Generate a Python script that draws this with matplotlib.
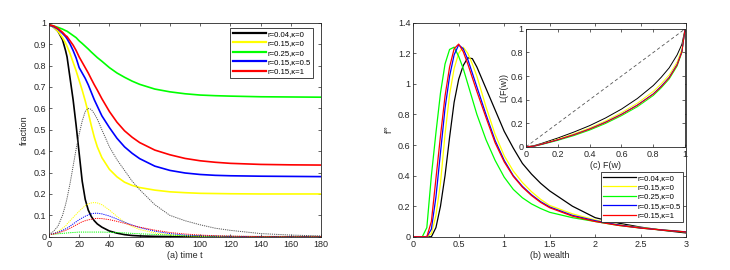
import matplotlib
matplotlib.use("Agg")
import matplotlib.pyplot as plt

plt.rcParams['font.family'] = ['Liberation Sans', 'DejaVu Sans']
plt.rcParams['mathtext.fontset'] = 'custom'
plt.rcParams['mathtext.rm'] = 'Liberation Sans'
plt.rcParams['mathtext.it'] = 'Liberation Sans'

# ---------------- data ----------------
labels = ['r=0.04,\u03ba=0', 'r=0.15,\u03ba=0', 'r=0.25,\u03ba=0', 'r=0.15,\u03ba=0.5', 'r=0.15,\u03ba=1']
colors = ['#000000', '#ffff00', '#00ff00', '#0000ff', '#ff0000']

# (a) fraction vs time
t = [0, 3, 6, 9, 11, 12, 14, 16, 18, 20, 22, 24, 26, 28, 30, 32, 35, 40, 45, 50, 55, 60, 70, 80, 90, 100, 110, 120, 140, 160, 180]
sol_k = [0.99, 0.98, 0.96, 0.92, 0.87, 0.84, 0.74, 0.64, 0.52, 0.39, 0.26, 0.175, 0.125, 0.095, 0.075, 0.06, 0.045, 0.027, 0.017, 0.01, 0.006, 0.004, 0.002, 0.001, 0, 0, 0, 0, 0, 0, 0]
sol_y = [0.99, 0.98, 0.96, 0.93, 0.905, 0.89, 0.855, 0.815, 0.775, 0.73, 0.685, 0.635, 0.58, 0.52, 0.465, 0.42, 0.37, 0.315, 0.28, 0.255, 0.24, 0.23, 0.218, 0.21, 0.206, 0.203, 0.202, 0.201, 0.2, 0.2, 0.2]
sol_g = [0.99, 0.985, 0.978, 0.97, 0.963, 0.96, 0.95, 0.94, 0.93, 0.915, 0.903, 0.89, 0.877, 0.863, 0.85, 0.837, 0.82, 0.79, 0.765, 0.745, 0.727, 0.712, 0.69, 0.677, 0.668, 0.662, 0.659, 0.657, 0.654, 0.653, 0.652]
sol_b = [0.99, 0.982, 0.97, 0.95, 0.935, 0.925, 0.9, 0.87, 0.835, 0.79, 0.765, 0.74, 0.71, 0.675, 0.64, 0.61, 0.565, 0.51, 0.46, 0.42, 0.39, 0.365, 0.33, 0.31, 0.298, 0.291, 0.287, 0.285, 0.283, 0.282, 0.281]
sol_r = [0.99, 0.985, 0.973, 0.955, 0.94, 0.935, 0.915, 0.895, 0.87, 0.84, 0.815, 0.79, 0.765, 0.737, 0.71, 0.685, 0.645, 0.585, 0.535, 0.495, 0.465, 0.44, 0.405, 0.383, 0.366, 0.355, 0.348, 0.343, 0.338, 0.336, 0.335]

dot_k = [0.01, 0.025, 0.05, 0.1, 0.15, 0.18, 0.25, 0.33, 0.41, 0.48, 0.54, 0.585, 0.6, 0.595, 0.575, 0.55, 0.5, 0.42, 0.36, 0.31, 0.26, 0.22, 0.15, 0.1, 0.075, 0.056, 0.04, 0.03, 0.015, 0.008, 0.004]
dot_y = [0.01, 0.015, 0.025, 0.04, 0.05, 0.06, 0.075, 0.09, 0.105, 0.12, 0.133, 0.145, 0.153, 0.158, 0.16, 0.158, 0.15, 0.125, 0.095, 0.068, 0.048, 0.034, 0.018, 0.009, 0.004, 0.002, 0.001, 0.001, 0, 0, 0]
dot_g = [0.01, 0.012, 0.014, 0.016, 0.017, 0.018, 0.019, 0.02, 0.021, 0.022, 0.022, 0.022, 0.022, 0.022, 0.022, 0.022, 0.022, 0.021, 0.02, 0.018, 0.016, 0.014, 0.011, 0.008, 0.006, 0.004, 0.003, 0.002, 0.001, 0, 0]
dot_b = [0.01, 0.015, 0.022, 0.03, 0.037, 0.04, 0.05, 0.06, 0.07, 0.08, 0.088, 0.096, 0.102, 0.107, 0.11, 0.11, 0.107, 0.097, 0.083, 0.068, 0.055, 0.043, 0.026, 0.015, 0.008, 0.005, 0.003, 0.002, 0, 0, 0]
dot_r = [0.01, 0.013, 0.018, 0.025, 0.03, 0.033, 0.04, 0.048, 0.055, 0.063, 0.07, 0.075, 0.079, 0.082, 0.085, 0.086, 0.085, 0.08, 0.072, 0.063, 0.053, 0.045, 0.031, 0.02, 0.013, 0.008, 0.005, 0.003, 0.001, 0, 0]

# (b) steady-state distribution vs wealth
w = [0, 0.1, 0.15, 0.2, 0.25, 0.3, 0.35, 0.4, 0.45, 0.5, 0.55, 0.6, 0.65, 0.7, 0.8, 0.9, 1.0, 1.1, 1.2, 1.3, 1.4, 1.5, 1.75, 2.0, 2.25, 2.5, 2.75, 3.0]
f_k = [0, 0, 0, 0, 0.06, 0.2, 0.4, 0.65, 0.88, 1.03, 1.12, 1.17, 1.165, 1.11, 0.97, 0.83, 0.69, 0.58, 0.48, 0.41, 0.35, 0.3, 0.2, 0.125, 0.09, 0.063, 0.042, 0.025]
f_y = [0, 0, 0, 0.02, 0.14, 0.35, 0.67, 0.93, 1.1, 1.2, 1.24, 1.2, 1.13, 1.05, 0.85, 0.67, 0.53, 0.43, 0.355, 0.295, 0.245, 0.205, 0.15, 0.11, 0.08, 0.06, 0.045, 0.032]
f_g = [0, 0, 0.06, 0.4, 0.68, 0.94, 1.13, 1.225, 1.24, 1.18, 1.1, 1.0, 0.9, 0.8, 0.635, 0.5, 0.39, 0.31, 0.255, 0.215, 0.185, 0.16, 0.125, 0.1, 0.075, 0.057, 0.043, 0.031]
f_b = [0, 0, 0, 0.05, 0.26, 0.55, 0.84, 1.05, 1.19, 1.255, 1.23, 1.16, 1.07, 0.98, 0.8, 0.63, 0.5, 0.4, 0.33, 0.275, 0.23, 0.195, 0.14, 0.105, 0.078, 0.058, 0.044, 0.032]
f_r = [0, 0, 0, 0.1, 0.38, 0.66, 0.92, 1.11, 1.23, 1.26, 1.21, 1.13, 1.04, 0.95, 0.78, 0.615, 0.49, 0.395, 0.325, 0.27, 0.225, 0.19, 0.135, 0.1, 0.075, 0.057, 0.043, 0.031]

# (c) Lorenz curves
F = [0, 0.05, 0.1, 0.2, 0.3, 0.4, 0.5, 0.6, 0.7, 0.8, 0.85, 0.9, 0.95, 0.98, 1.0]
L_k = [0, 0.01, 0.03, 0.075, 0.125, 0.18, 0.245, 0.32, 0.41, 0.52, 0.59, 0.67, 0.78, 0.87, 1.0]
L_y = [0, 0.007, 0.025, 0.065, 0.11, 0.16, 0.22, 0.29, 0.37, 0.47, 0.535, 0.61, 0.72, 0.83, 1.0]
L_g = [0, 0.005, 0.02, 0.055, 0.095, 0.142, 0.198, 0.264, 0.34, 0.435, 0.5, 0.575, 0.685, 0.8, 1.0]
L_b = [0, 0.006, 0.023, 0.06, 0.103, 0.152, 0.21, 0.277, 0.355, 0.45, 0.515, 0.59, 0.7, 0.81, 1.0]
L_r = [0, 0.006, 0.023, 0.06, 0.102, 0.15, 0.207, 0.274, 0.352, 0.447, 0.51, 0.585, 0.695, 0.805, 1.0]

# ---------------- figure ----------------
fig = plt.figure(figsize=(7.3, 2.7), dpi=100)
axc = '#262626'
fs = 6.5

def style(ax):
    ax.tick_params(direction='in', length=2.5, width=0.5, labelsize=fs, colors=axc,
                   top=True, right=True, pad=2)
    for s in ax.spines.values():
        s.set_linewidth(0.6)
        s.set_color(axc)

ax1 = fig.add_axes([0.067, 0.123, 0.373, 0.793])
sols = [sol_k, sol_y, sol_g, sol_b, sol_r]
dots = [dot_k, dot_y, dot_g, dot_b, dot_r]
for s, c, lab in zip(sols, colors, labels):
    ax1.plot(t, s, color=c, lw=1.2, label=lab)
for d, c in zip(dots, colors):
    ax1.plot(t, d, color=(c if c != '#000000' else '#555555'), lw=0.7, ls=(0, (1.2, 1.0)))
ax1.set_xlim(0, 180)
ax1.set_ylim(0, 1)
ax1.set_xticks(range(0, 181, 20))
ax1.set_yticks([i / 10 for i in range(11)])
ax1.set_yticklabels(['0'] + ['%.1f' % (i / 10) for i in range(1, 10)] + ['1'])
ax1.set_xlabel('(a) time t', fontsize=fs, color=axc, labelpad=2)
ax1.set_ylabel('fraction', fontsize=fs, color=axc, labelpad=3)
style(ax1)
leg1 = ax1.legend(loc='upper right', bbox_to_anchor=(0.971, 0.977), borderaxespad=0,
                  fontsize=5.6, handlelength=4.2, handletextpad=0.2,
                  borderpad=0.35, labelspacing=0.25, fancybox=False, framealpha=1,
                  edgecolor=axc)
leg1.get_frame().set_linewidth(0.6)
for ln in leg1.get_lines():
    ln.set_linewidth(1.6)

ax2 = fig.add_axes([0.566, 0.123, 0.374, 0.793])
fs_ = [f_k, f_y, f_g, f_b, f_r]
for f, c, lab in zip(fs_, colors, labels):
    ax2.plot(w, f, color=c, lw=0.9, label=lab)
ax2.set_xlim(0, 3)
ax2.set_ylim(0, 1.4)
ax2.set_xticks([0, 0.5, 1, 1.5, 2, 2.5, 3])
ax2.set_xticklabels(['0', '0.5', '1', '1.5', '2', '2.5', '3'])
ax2.set_yticks([0, 0.2, 0.4, 0.6, 0.8, 1.0, 1.2, 1.4])
ax2.set_yticklabels(['0', '0.2', '0.4', '0.6', '0.8', '1', '1.2', '1.4'])
ax2.set_xlabel('(b) wealth', fontsize=fs, color=axc, labelpad=2)
ax2.set_ylabel('f$^{\\infty}$', fontsize=fs, color=axc, labelpad=3)
style(ax2)
leg2 = ax2.legend(loc='lower right', bbox_to_anchor=(0.99, 0.069), borderaxespad=0,
                  fontsize=5.6, handlelength=4.2, handletextpad=0.2, borderpad=0.35,
                  labelspacing=0.25, fancybox=False, framealpha=1, edgecolor=axc)
leg2.get_frame().set_linewidth(0.6)

ax3 = fig.add_axes([0.7205, 0.456, 0.218, 0.437])
ax3.plot([0, 1], [0, 1], color='#555555', lw=0.6, ls=(0, (4, 3)))
for L, c in zip([L_k, L_y, L_g, L_b, L_r], colors):
    ax3.plot(F, L, color=c, lw=0.7)
ax3.set_xlim(0, 1)
ax3.set_ylim(0, 1)
ax3.set_xticks([0, 0.2, 0.4, 0.6, 0.8, 1])
ax3.set_xticklabels(['0', '0.2', '0.4', '0.6', '0.8', '1'])
ax3.set_yticks([0, 0.2, 0.4, 0.6, 0.8, 1])
ax3.set_yticklabels(['0', '0.2', '0.4', '0.6', '0.8', '1'])
ax3.set_xlabel('(c) F(w)', fontsize=fs, color=axc, labelpad=2)
ax3.set_ylabel('L(F(w))', fontsize=fs, color=axc, labelpad=2)
style(ax3)

fig.savefig('out.png', dpi=100)
